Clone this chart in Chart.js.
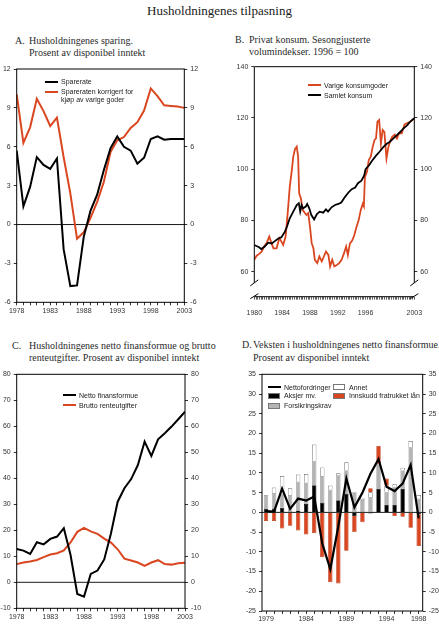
<!DOCTYPE html>
<html>
<head>
<meta charset="utf-8">
<script src="https://cdn.jsdelivr.net/npm/chart.js@4.4.1/dist/chart.umd.min.js"></script>
<style>
  body { margin:0; width:439px; height:626px; background:#fff; position:relative; overflow:hidden;
         font-family:'Liberation Serif','Times New Roman',serif; color:#222; }
  .t { position:absolute; font-size:10px; line-height:12px; white-space:nowrap; color:#2a2a2a; }
  .main { position:absolute; left:0; width:439px; top:3px; text-align:center; font-size:13px; line-height:16px; color:#1a1a1a; }
  .lg { position:absolute; font-family:'Liberation Sans',Arial,sans-serif; font-size:7px; line-height:9px; color:#222; white-space:nowrap; }
  canvas { position:absolute; }
</style>
</head>
<body>
<div class="main">Husholdningenes tilpasning</div>

<div class="t" style="left:15px;top:35px">A.</div>
<div class="t" style="left:29px;top:35px">Husholdningenes sparing.</div>
<div class="t" style="left:29px;top:47px">Prosent av disponibel inntekt</div>

<div class="t" style="left:235px;top:34px">B.</div>
<div class="t" style="left:249px;top:34px">Privat konsum. Sesongjusterte</div>
<div class="t" style="left:249px;top:46px">volumindekser. 1996 = 100</div>

<div class="t" style="left:12px;top:340px">C.</div>
<div class="t" style="left:29px;top:340px">Husholdningenes netto finansformue og brutto</div>
<div class="t" style="left:29px;top:352px">renteutgifter. Prosent av disponibel inntekt</div>

<div class="t" style="left:242px;top:339px">D.</div>
<div class="t" style="left:253px;top:339px">Veksten i husholdningenes netto finansformue.</div>
<div class="t" style="left:253px;top:352px">Prosent av disponibel inntekt</div>

<canvas id="chartA" width="210" height="262" style="left:0;top:60px"></canvas>
<canvas id="chartB" width="214" height="264" style="left:225px;top:58px"></canvas>
<canvas id="chartC" width="210" height="260" style="left:0;top:366px"></canvas>
<canvas id="chartD" width="214" height="260" style="left:225px;top:366px"></canvas>

<script>
// --- Farger og fonter ---
const RED = '#d9461f';
const GRAY = '#b4b4b4';
const tickFont = { family: "'Liberation Sans', Arial, sans-serif", size: 7 };
const tickColor = '#333';

// --- A: Husholdningenes sparing (årlig) ---
const yearsA = [1978,1979,1980,1981,1982,1983,1984,1985,1986,1987,1988,1989,1990,1991,1992,1993,1994,1995,1996,1997,1998,1999,2000,2001,2002,2003];
const sparerate = [5.7,1.4,2.9,5.2,4.6,4.3,5.1,-1.9,-4.75,-4.7,-0.95,1.05,2.3,4.2,5.9,6.8,6.0,5.7,4.7,5.15,6.6,6.8,6.55,6.6,6.6,6.6];
const spareKorrigert = [10.05,6.3,7.5,9.7,8.75,7.6,8.25,5.2,2.4,-1.1,-0.6,0.5,1.75,3.3,5.6,6.5,6.75,7.45,7.9,8.8,10.5,9.9,9.2,9.15,9.1,9.0];

// --- B: Privat konsum (kvartalsvis, 1996 = 100) ---
const bSamletX = [1980.0,1980.3,1980.7,1981.0,1981.5,1982.0,1982.5,1983.0,1983.5,1983.9,1984.4,1984.7,1985.1,1985.6,1986.1,1986.4,1986.6,1986.8,1987.0,1987.4,1987.6,1987.9,1988.2,1988.6,1989.0,1989.4,1989.9,1990.3,1990.6,1991.1,1991.6,1992.1,1992.5,1993.0,1993.5,1994.0,1994.5,1994.9,1995.4,1995.8,1996.0,1996.5,1996.9,1997.5,1998.0,1998.5,1999.0,1999.5,2000.0,2000.5,2001.0,2001.5,2002.0,2002.4,2002.8,2003.0];
const bSamlet = [70.4,70.0,69.5,68.8,69.8,71.3,71.0,72.0,73.0,73.4,75.6,77.6,80.8,83.4,86.0,86.7,83.4,86.0,84.7,85.4,86.4,84.7,82.1,80.4,82.5,83.4,83.0,84.3,83.4,85.1,86.0,86.4,87.0,89.0,90.8,92.2,92.8,94.5,95.5,97.5,100.0,101.5,103.2,105.3,106.8,108.5,109.8,110.7,112.0,113.3,114.6,116.0,117.2,118.5,119.5,119.8];
const bVarigeX = [1980.0,1980.3,1980.7,1981.05,1981.45,1981.8,1982.15,1982.4,1982.75,1983.2,1983.6,1983.9,1984.15,1984.5,1984.8,1985.1,1985.4,1985.6,1985.85,1986.1,1986.3,1986.45,1986.7,1986.95,1987.3,1987.5,1987.75,1988.0,1988.25,1988.5,1988.7,1989.05,1989.35,1989.7,1990.0,1990.3,1990.65,1990.9,1991.2,1991.5,1991.85,1992.2,1992.55,1992.9,1993.2,1993.45,1993.75,1994.05,1994.35,1994.7,1995.0,1995.3,1995.6,1995.75,1995.9,1996.2,1996.45,1996.75,1997.0,1997.3,1997.5,1997.7,1997.95,1998.2,1998.45,1998.7,1999.0,1999.3,1999.6,1999.85,2000.2,2000.5,2000.8,2001.2,2001.6,2002.0,2002.4,2002.75,2003.0];
const bVarige = [64.6,66.1,66.9,67.8,70.0,71.3,73.7,71.7,69.1,69.1,73.0,71.7,70.4,73.7,82.8,93.2,99.7,104.9,107.8,108.8,104.9,90.6,88.6,84.1,82.8,82.1,82.8,77.6,71.1,69.1,64.6,63.3,65.9,64.0,65.9,67.8,66.5,62.0,64.6,62.0,62.6,63.3,64.6,67.2,69.8,66.5,71.0,72.0,74.0,77.5,80.0,84.0,86.5,85.5,97.0,99.0,103.5,105.0,108.5,111.5,112.0,118.5,119.2,110.0,115.3,114.5,104.2,109.0,111.4,112.7,113.5,112.0,114.0,114.0,117.5,118.0,118.5,119.2,119.8];
const bYTicks = [60, 80, 100, 120, 140];
const bXLabels = [1980, 1984, 1988, 1992, 1996, 2003];

// --- C: Netto finansformue og brutto renteutgifter ---
const yearsC = yearsA;
const nettoFinans = [12.8,12.2,10.9,15.4,14.6,16.7,17.6,20.8,10.5,-4.5,-5.5,3.2,4.5,8.8,18.8,31.0,36.2,39.7,45.1,54.1,48.6,55.0,57.3,59.9,62.7,65.6];
const bruttoRente = [7.0,7.6,8.0,8.6,9.7,10.7,11.2,12.3,15.3,19.4,20.9,19.6,18.6,16.8,15.3,12.7,9.1,8.4,7.6,6.3,7.6,8.5,7.0,6.8,7.3,7.5];

// --- D: Veksten i netto finansformue ---
const yearsD = ['1979','1980','1981','1982','1983','1984','1985','1986','1987','1988','1989','1990','1991','1992','1993','1994','1995','1996','1997','1998'];
const dXLabels = ['1979','1984','1989','1994','1998'];
const nettofordringer = [0.3,0.2,6.0,0.9,3.5,3.0,4.0,-7.9,-14.4,-3.5,8.6,1.3,5.0,9.8,13.5,6.5,5.4,7.3,12.0,-1.5];
const aksjer = [1.0,1.0,1.2,0.2,0.5,2.1,6.9,2.5,0.1,3.1,4.8,-0.9,0.2,-0.3,5.9,2.0,2.0,5.9,0.0,-0.5];
const forsikring = [3.4,3.9,3.6,4.2,7.3,5.5,6.2,6.7,5.7,6.4,5.9,5.1,3.2,3.9,6.4,3.2,4.5,4.8,16.6,3.5];
const annet = [0.0,1.4,4.4,1.7,1.8,2.1,4.1,2.2,1.0,0.4,2.0,0.0,0.3,1.2,0.0,1.6,0.6,0.6,1.5,0.9];
const innskudd = [-2.2,-2.2,-4.1,-3.4,-4.6,-5.6,-5.3,-11.4,-17.7,-18.0,-9.7,-4.1,-2.5,1.0,4.5,1.8,-0.9,-1.1,-3.9,-8.0];

// --- Ramme, nullinje og brudd i aksen ---
const framePlugin = {
  id: 'frame',
  beforeDatasetsDraw(chart, args, opts) {
    if (!opts.zero) return;
    const { ctx, chartArea: a } = chart;
    const y0 = chart.scales.y.getPixelForValue(0);
    ctx.save();
    ctx.strokeStyle = '#000';
    ctx.lineWidth = 0.9;
    ctx.beginPath(); ctx.moveTo(a.left, y0); ctx.lineTo(a.right, y0); ctx.stroke();
    ctx.restore();
  },
  afterDatasetsDraw(chart, args, opts) {
    const { ctx, chartArea: a } = chart;
    ctx.save();
    ctx.strokeStyle = '#000';
    ctx.lineWidth = 1;
    if (opts.breakAt == null) {
      ctx.strokeRect(a.left, a.top, a.right - a.left, a.bottom - a.top);
    } else {
      const yb = chart.scales.y.getPixelForValue(opts.breakAt);
      ctx.beginPath();
      ctx.moveTo(a.left, yb); ctx.lineTo(a.left, a.top); ctx.lineTo(a.right, a.top); ctx.lineTo(a.right, yb);
      ctx.moveTo(a.left, a.bottom); ctx.lineTo(a.right, a.bottom);
      [a.left, a.right].forEach(x => {
        ctx.moveTo(x - 4, yb + 3); ctx.lineTo(x + 4, yb - 3);
        ctx.moveTo(x - 4, a.bottom + 2); ctx.lineTo(x + 4, a.bottom - 3);
      });
      ctx.stroke();
    }
    ctx.restore();
  }
};

function yAxis(pos, min, max, step, width) {
  return {
    type: 'linear', position: pos, min: min, max: max,
    afterFit: s => { s.width = width; },
    ticks: { stepSize: step, font: tickFont, color: tickColor, padding: 3, callback: v => String(v) },
    grid: { drawOnChartArea: false, tickLength: 3, tickColor: '#000', tickWidth: 0.8 },
    border: { display: false }
  };
}

function yearAxis(min, max, height, labelEvery) {
  return {
    type: 'linear', min: min, max: max,
    afterFit: s => { s.height = height; },
    ticks: { stepSize: 1, autoSkip: false, maxRotation: 0, minRotation: 0, font: tickFont, color: tickColor, padding: 2,
             callback: v => ((v - min) % labelEvery === 0 ? String(v) : '') },
    grid: { drawOnChartArea: false, tickLength: 3, tickColor: '#000', tickWidth: 0.8 },
    border: { display: false }
  };
}

function baseOptions(top, scales, frame) {
  return {
    responsive: false,
    animation: false,
    layout: { padding: { top: top, left: 0, right: 0, bottom: 0 }, autoPadding: false },
    plugins: { legend: { display: false }, tooltip: { enabled: false }, frame: frame },
    elements: { point: { radius: 0 }, line: { tension: 0 } },
    scales: scales
  };
}

function pairs(xs, ys) { return xs.map((x, i) => ({ x: x, y: ys[i] })); }

// --- Chart A ---
new Chart(document.getElementById('chartA'), {
  type: 'line',
  data: { datasets: [
    { label: 'Sparerate', data: pairs(yearsA, sparerate), borderColor: '#000', borderWidth: 2 },
    { label: 'Spareraten korrigert for kjøp av varige goder', data: pairs(yearsA, spareKorrigert), borderColor: RED, borderWidth: 2 }
  ]},
  options: baseOptions(9, {
    x: yearAxis(1978, 2003, 19.7, 5),
    y: yAxis('left', -6, 12, 3, 16.7),
    y2: yAxis('right', -6, 12, 3, 25.7)
  }, { zero: true }),
  plugins: [framePlugin]
});

// --- Chart B ---
const bX = {
  type: 'linear', min: 1980, max: 2003,
  afterFit: s => { s.height = 25.3; },
  ticks: { stepSize: 0.25, autoSkip: false, maxRotation: 0, minRotation: 0, font: tickFont, color: tickColor, padding: 9,
           callback: v => (bXLabels.some(y => Math.abs(y - v) < 1e-6) ? String(Math.round(v)) : '') },
  grid: { drawOnChartArea: false, tickLength: 3, tickColor: '#000', tickWidth: 0.6 },
  border: { display: false }
};
const bYL = yAxis('left', 50.2, 140, 20, 29.3);
const bYR = yAxis('right', 50.2, 140, 20, 24.7);
[bYL, bYR].forEach(a => { a.afterBuildTicks = s => { s.ticks = bYTicks.map(v => ({ value: v })); }; });
new Chart(document.getElementById('chartB'), {
  type: 'line',
  data: { datasets: [
    { label: 'Samlet konsum', data: pairs(bSamletX, bSamlet), borderColor: '#000', borderWidth: 1.8 },
    { label: 'Varige konsumgoder', data: pairs(bVarigeX, bVarige), borderColor: RED, borderWidth: 1.8 }
  ]},
  options: baseOptions(8.7, { x: bX, y: bYL, y2: bYR }, { breakAt: 55.6 }),
  plugins: [framePlugin]
});

// --- Chart C ---
new Chart(document.getElementById('chartC'), {
  type: 'line',
  data: { datasets: [
    { label: 'Netto finansformue', data: pairs(yearsC, nettoFinans), borderColor: '#000', borderWidth: 2 },
    { label: 'Brutto renteutgifter', data: pairs(yearsC, bruttoRente), borderColor: RED, borderWidth: 2 }
  ]},
  options: baseOptions(8.3, {
    x: yearAxis(1978, 2003, 17.7, 5),
    y: yAxis('left', -10, 80, 10, 16.7),
    y2: yAxis('right', -10, 80, 10, 25)
  }, { zero: true }),
  plugins: [framePlugin]
});

// --- Chart D ---
const dYL = yAxis('left', -25, 35, 5, 37);
const dYR = yAxis('right', -25, 35, 5, 16.3);
dYL.stacked = true;
const barCommon = { stack: 'komp', barPercentage: 0.55, categoryPercentage: 1.0, borderWidth: 0.7, order: 1 };
new Chart(document.getElementById('chartD'), {
  type: 'bar',
  data: {
    labels: yearsD,
    datasets: [
      { type: 'line', label: 'Nettofordringer', data: nettofordringer, borderColor: '#000', borderWidth: 2.2, stack: 'linje', order: 0 },
      Object.assign({ label: 'Aksjer mv.', data: aksjer, backgroundColor: '#000', borderColor: '#000' }, barCommon),
      Object.assign({ label: 'Forsikringskrav', data: forsikring, backgroundColor: GRAY, borderColor: '#999' }, barCommon),
      Object.assign({ label: 'Annet', data: annet, backgroundColor: '#fff', borderColor: '#666' }, barCommon),
      Object.assign({ label: 'Innskudd fratrukket lån', data: innskudd, backgroundColor: RED, borderColor: '#b8391a' }, barCommon)
    ]
  },
  options: baseOptions(8.3, {
    x: {
      type: 'category', stacked: true, offset: true,
      afterFit: s => { s.height = 15; },
      ticks: { autoSkip: false, maxRotation: 0, minRotation: 0, font: tickFont, color: tickColor, padding: 1,
               callback: function (v, i) { const l = this.getLabelForValue(v); return dXLabels.includes(l) ? l : ''; } },
      grid: { drawOnChartArea: false, offset: false, tickLength: 3, tickColor: '#000', tickWidth: 0.8 },
      border: { display: false }
    },
    y: dYL,
    y2: dYR
  }, { zero: true }),
  plugins: [framePlugin]
});

// --- Forklaringer ---
function legend(x, y, kind, color, lines) {
  const sw = document.createElement('div');
  sw.style.position = 'absolute';
  sw.style.left = x + 'px';
  sw.style.background = color;
  if (kind === 'line') {
    sw.style.top = (y - 1) + 'px'; sw.style.width = '13px'; sw.style.height = '2px';
  } else {
    sw.style.top = (y - 3) + 'px'; sw.style.width = '12px'; sw.style.height = '6px';
    sw.style.boxSizing = 'border-box'; sw.style.border = '0.7px solid #777';
  }
  document.body.appendChild(sw);
  lines.forEach((t, i) => {
    const d = document.createElement('div');
    d.className = 'lg';
    d.style.left = (x + 16) + 'px';
    d.style.top = (y - 4.5 + i * 8) + 'px';
    d.textContent = t;
    document.body.appendChild(d);
  });
}
legend(45, 81.7, 'line', '#000', ['Sparerate']);
legend(45, 91.7, 'line', RED, ['Spareraten korrigert for', 'kjøp av varige goder']);
legend(308, 85, 'line', RED, ['Varige konsumgoder']);
legend(308, 95, 'line', '#000', ['Samlet konsum']);
legend(63, 395, 'line', '#000', ['Netto finansformue']);
legend(63, 405, 'line', RED, ['Brutto renteutgifter']);
legend(268, 387.3, 'line', '#000', ['Nettofordringer']);
legend(268, 395.7, 'box', '#000', ['Aksjer mv.']);
legend(268, 405.7, 'box', GRAY, ['Forsikringskrav']);
legend(333, 387.3, 'box', '#fff', ['Annet']);
legend(333, 395.7, 'box', RED, ['Innskudd fratrukket lån']);
</script>
</body>
</html>
